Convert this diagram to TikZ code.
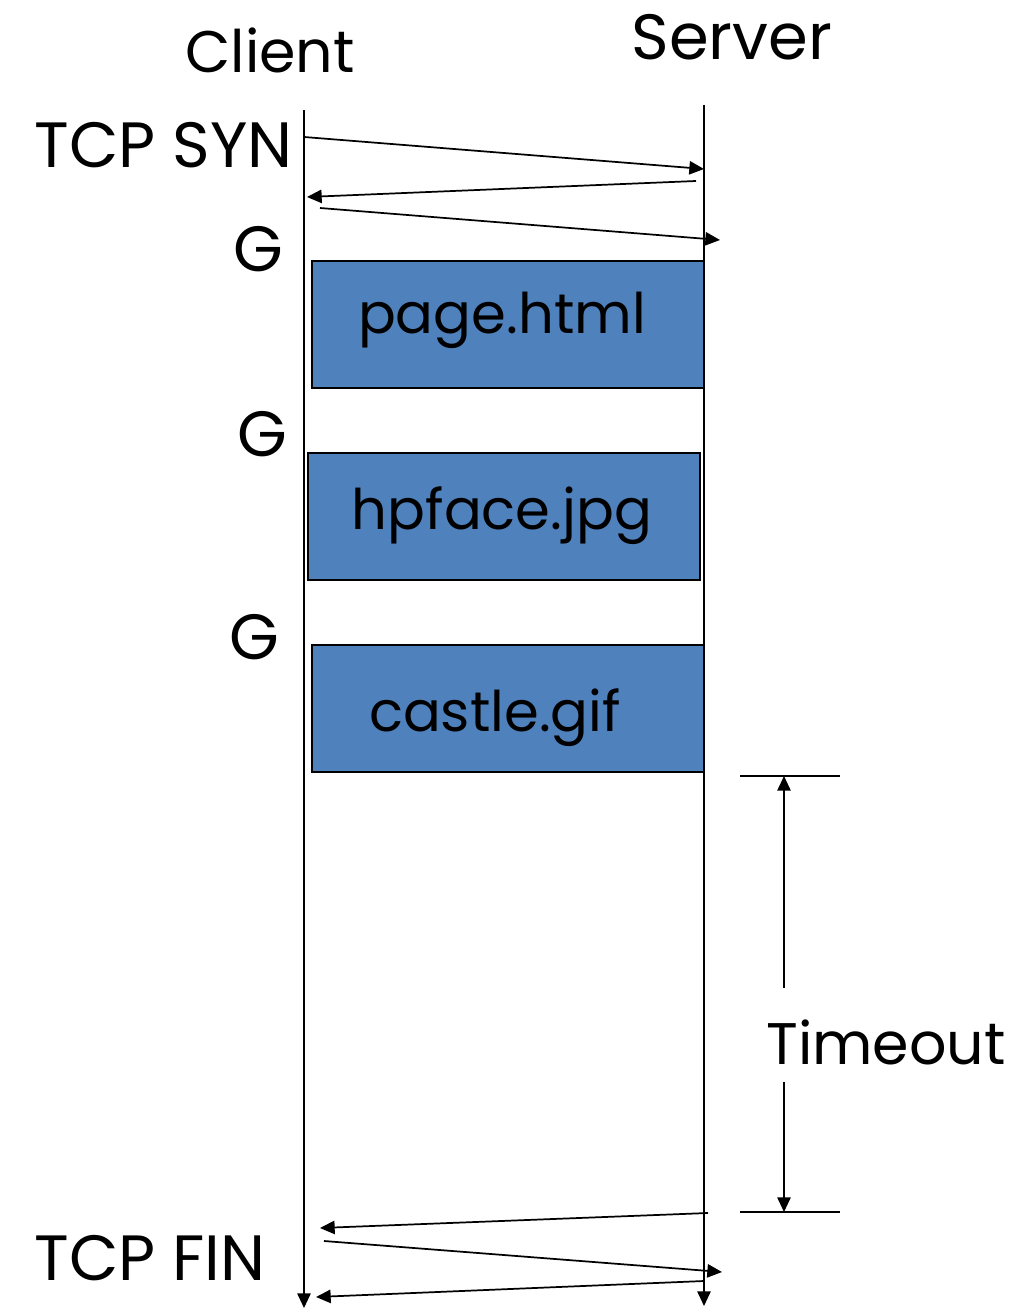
\documentclass[tikz,border=0pt]{standalone}
\usepackage{fontspec}
\setmainfont{Poppins}
\usetikzlibrary{arrows.meta}
\definecolor{filebox}{HTML}{4F81BD}
\tikzset{
  msg/.style={-{Triangle[length=11pt,width=10pt]}, line width=1.3pt},
  life/.style={-{Triangle[length=11pt,width=10pt]}, line width=1.3pt},
  payload/.style={draw=black, line width=1.2pt, fill=filebox},
  lbl/.style={inner sep=0pt, font=\fontsize{44}{46}\selectfont},
  biglbl/.style={inner sep=0pt, font=\fontsize{48}{50}\selectfont},
  filelbl/.style={inner sep=0pt, font=\fontsize{42}{44}\selectfont},
  tick/.style={line width=1.3pt}
}
\begin{document}
\begin{tikzpicture}[x=0.75pt,y=-0.75pt]
\useasboundingbox (0,0) rectangle (1009,1309);

% lifelines
\coordinate (c0) at (304,110);
\coordinate (c1) at (304,1308);
\coordinate (s0) at (704,105);
\coordinate (s1) at (704,1306);
\draw[life] (c0) -- (c1);
\draw[life] (s0) -- (s1);

% column headings
\node[lbl] (client) at (270,50) {Client};
\node[biglbl] (server) at (732,37) {Server};

% handshake
\node[biglbl, anchor=east] (syn) at (293,145) {TCP SYN};
\coordinate (h1a) at (304,137); \coordinate (h1b) at (704,169);
\coordinate (h2a) at (696,181); \coordinate (h2b) at (307,197);
\coordinate (h3a) at (320,208); \coordinate (h3b) at (720,240);
\draw[msg] (h1a) -- (h1b);
\draw[msg] (h2a) -- (h2b);
\draw[msg] (h3a) -- (h3b);

% requests and responses
\node[biglbl] (g1) at (258,249) {G};
\node[biglbl] (g2) at (262,434) {G};
\node[biglbl] (g3) at (254,637) {G};

\draw[payload] (312,261) rectangle (704,388);
\node[filelbl] (f1) at (502,320) {page.html};
\draw[payload] (308,453) rectangle (700,580);
\node[filelbl] (f2) at (502,516) {hpface.jpg};
\draw[payload] (312,645) rectangle (704,772);
\node[filelbl] (f3) at (495,718) {castle.gif};

% timeout interval
\coordinate (t0l) at (740,776); \coordinate (t0r) at (840,776);
\coordinate (t1l) at (740,1212); \coordinate (t1r) at (840,1212);
\draw[tick] (t0l) -- (t0r);
\draw[tick] (t1l) -- (t1r);
\node[lbl] (tmo) at (886,1042) {Timeout};
\coordinate (ta) at (784,776); \coordinate (tb) at (784,1212);
\coordinate (tga) at (784,988); \coordinate (tgb) at (784,1082);
\draw[msg] (tga) -- (ta);
\draw[msg] (tgb) -- (tb);

% teardown
\node[biglbl, anchor=east] (fin) at (266,1258) {TCP FIN};
\coordinate (e1a) at (708,1213); \coordinate (e1b) at (320,1228);
\coordinate (e2a) at (324,1241); \coordinate (e2b) at (722,1272);
\coordinate (e3a) at (704,1281); \coordinate (e3b) at (316,1297);
\draw[msg] (e1a) -- (e1b);
\draw[msg] (e2a) -- (e2b);
\draw[msg] (e3a) -- (e3b);
\end{tikzpicture}
\end{document}
